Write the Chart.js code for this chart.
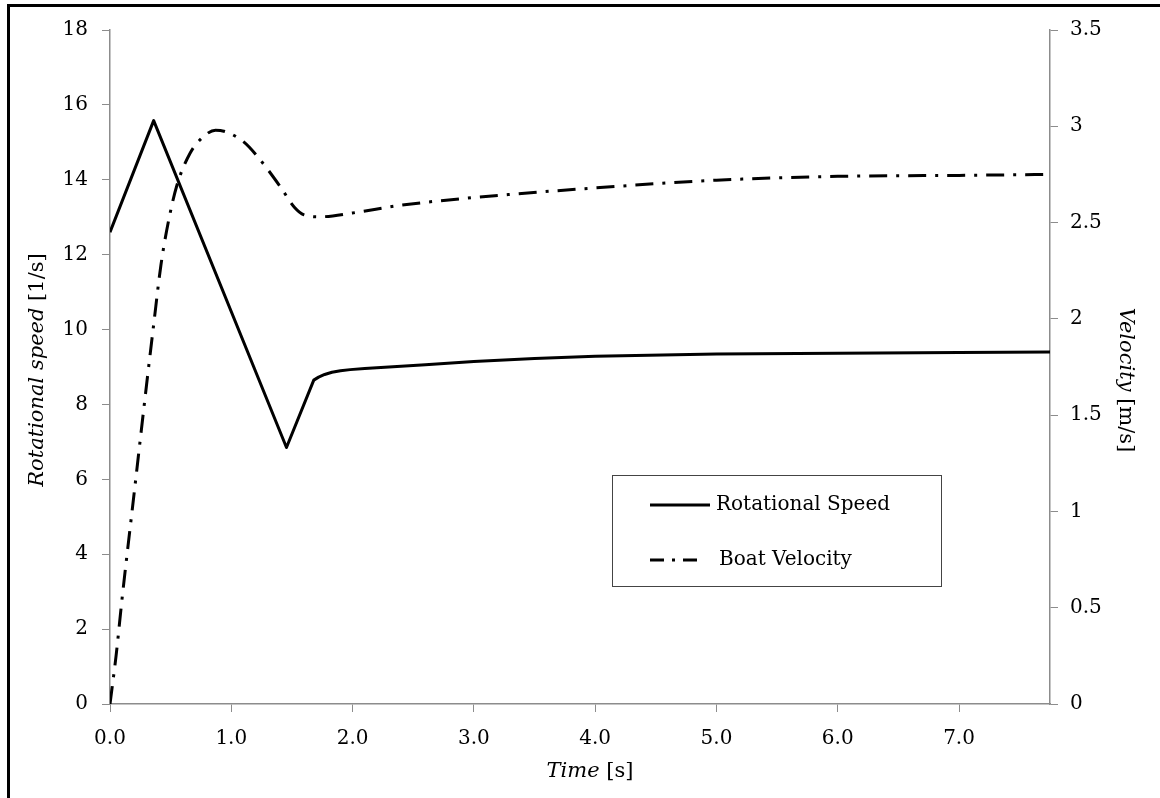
<!DOCTYPE html>
<html>
<head>
<meta charset="utf-8">
<script src="https://cdn.jsdelivr.net/npm/chart.js@4/dist/chart.umd.min.js"></script>
<style>
  html, body { margin: 0; padding: 0; background: #fff; overflow: hidden; }
  #wrap { position: relative; width: 1160px; height: 798px; }
  #cadre { position: absolute; left: 7px; top: 4px; width: 1200px; height: 900px;
           border-top: 3px solid #000; border-left: 3px solid #000; }
  canvas { position: absolute; left: 0; top: 0; }
</style>
</head>
<body>
<div id="wrap">
  <div id="cadre"></div>
  <canvas id="myChart" width="1160" height="798"></canvas>
</div>
<script>
// données
let tempsRot = [0, 0.36, 1.455, 1.68, 1.72, 1.77, 1.83, 1.9, 1.98, 2.1, 2.3, 2.6, 3.0, 3.5, 4.0, 5.0, 6.0, 7.0, 7.75];
let vitesseRot = [12.6, 15.58, 6.85, 8.65, 8.73, 8.8, 8.86, 8.9, 8.93, 8.96, 9.0, 9.06, 9.15, 9.23, 9.29, 9.35, 9.37, 9.39, 9.4];

let tempsBateau = [0, 0.05, 0.1, 0.2, 0.3, 0.36, 0.42, 0.48, 0.55, 0.66, 0.76, 0.87, 0.96, 1.1, 1.22, 1.4, 1.52, 1.6, 1.73, 2.0, 2.4, 3.0, 4.0, 5.0, 6.0, 7.0, 7.75];
let vitesseBateau = [0, 0.25, 0.55, 1.1, 1.65, 1.97, 2.28, 2.5, 2.69, 2.86, 2.94, 2.98, 2.97, 2.92, 2.84, 2.69, 2.58, 2.54, 2.53, 2.55, 2.59, 2.63, 2.68, 2.72, 2.74, 2.745, 2.75];

let xTicks = [0, 1, 2, 3, 4, 5, 6, 7];
let legendeNoms = ["Rotational Speed", "Boat Velocity"];

let police = "'DejaVu Serif', serif";
let couleurAxe = "#8c8c8c";

function toPoints(xs, ys) {
  return xs.map((x, i) => ({ x: x, y: ys[i] }));
}

const data = {
  datasets: [
    {
      label: legendeNoms[0],
      data: toPoints(tempsRot, vitesseRot),
      borderColor: "#000",
      borderWidth: 3,
      pointRadius: 0,
      tension: 0,
      borderJoinStyle: "round",
      yAxisID: "y",
    },
    {
      label: legendeNoms[1],
      data: toPoints(tempsBateau, vitesseBateau),
      borderColor: "#000",
      borderWidth: 3,
      borderDash: [18, 9, 3, 9],
      pointRadius: 0,
      cubicInterpolationMode: "monotone",
      yAxisID: "y1",
    },
  ],
};

// titres des axes (italique + normal) et légende encadrée
const decor = {
  id: "decor",
  afterDraw(chart) {
    const ctx = chart.ctx;
    ctx.save();
    ctx.fillStyle = "#000";
    ctx.textBaseline = "middle";

    function titreMixte(partieItalique, partieNormale, x, y, angle) {
      ctx.save();
      ctx.translate(x, y);
      ctx.rotate(angle);
      ctx.font = "italic 21px " + police;
      let w1 = ctx.measureText(partieItalique).width;
      ctx.font = "21px " + police;
      let w2 = ctx.measureText(partieNormale).width;
      let debut = -(w1 + w2) / 2;
      ctx.textAlign = "left";
      ctx.font = "italic 21px " + police;
      ctx.fillText(partieItalique, debut, 0);
      ctx.font = "21px " + police;
      ctx.fillText(partieNormale, debut + w1, 0);
      ctx.restore();
    }

    titreMixte("Rotational speed", " [1/s]", 38, 370, -Math.PI / 2);
    titreMixte("Velocity", " [m/s]", 1125, 380, Math.PI / 2);
    titreMixte("Time", " [s]", 590, 772, 0);

    // légende
    ctx.strokeStyle = "#444";
    ctx.lineWidth = 1;
    ctx.strokeRect(612.5, 475.5, 329, 111);
    ctx.font = "20px " + police;
    ctx.textAlign = "left";
    let lignes = [505, 560];
    chart.data.datasets.forEach((ds, i) => {
      ctx.beginPath();
      ctx.strokeStyle = "#000";
      ctx.lineWidth = 3;
      ctx.setLineDash(i === 0 ? [] : [14, 8, 3, 8]);
      ctx.moveTo(650, lignes[i]);
      ctx.lineTo(i === 0 ? 710 : 697, lignes[i]);
      ctx.stroke();
      ctx.setLineDash([]);
      ctx.fillText(ds.label, i === 0 ? 716 : 719, lignes[i]);
    });
    ctx.restore();
  },
};

const config = {
  type: "line",
  data: data,
  options: {
    responsive: false,
    animation: false,
    layout: { padding: { top: 30, left: 0, right: 0, bottom: 0 } },
    plugins: {
      legend: { display: false },
      tooltip: { enabled: false },
    },
    scales: {
      x: {
        type: "linear",
        min: 0,
        max: 7.75,
        afterBuildTicks: (scale) => {
          scale.ticks = xTicks.map((v) => ({ value: v }));
        },
        afterFit: (scale) => {
          scale.height = 94;
        },
        grid: { drawOnChartArea: false, color: couleurAxe, tickLength: 8 },
        border: { color: couleurAxe, width: 1.5 },
        ticks: {
          color: "#000",
          font: { family: police, size: 20 },
          padding: 15,
          maxRotation: 0,
          callback: (v) => Number(v).toFixed(1),
        },
      },
      y: {
        position: "left",
        min: 0,
        max: 18,
        afterFit: (scale) => {
          scale.width = 110;
        },
        grid: { drawOnChartArea: false, color: couleurAxe, tickLength: 8 },
        border: { color: couleurAxe, width: 1.5 },
        ticks: {
          stepSize: 2,
          color: "#000",
          font: { family: police, size: 20 },
          padding: 14,
        },
      },
      y1: {
        position: "right",
        min: 0,
        max: 3.5,
        afterFit: (scale) => {
          scale.width = 110;
        },
        grid: { drawOnChartArea: false, color: couleurAxe, tickLength: 8 },
        border: { color: couleurAxe, width: 1.5 },
        ticks: {
          stepSize: 0.5,
          color: "#000",
          font: { family: police, size: 20 },
          padding: 12,
          callback: (v) => String(v),
        },
      },
    },
  },
  plugins: [decor],
};

let context = document.getElementById("myChart").getContext("2d");
let chart = new Chart(context, config);
</script>
</body>
</html>
